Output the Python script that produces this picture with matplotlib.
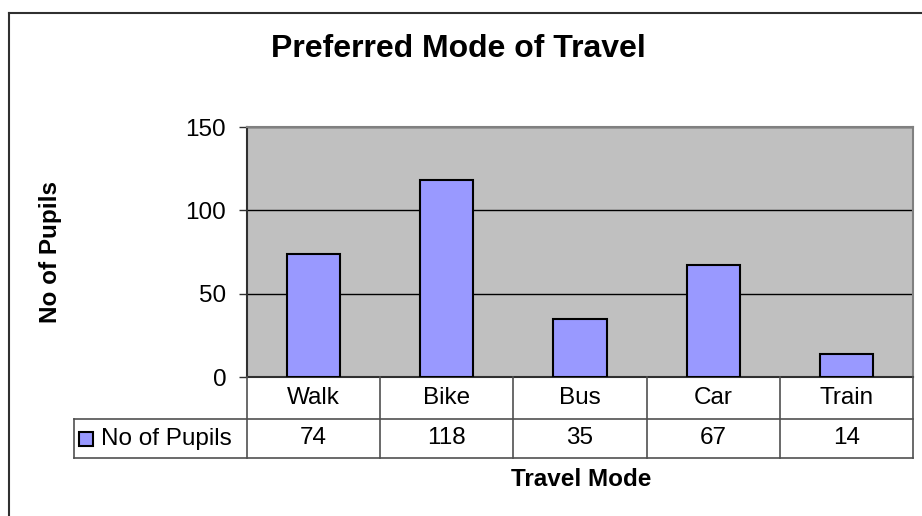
import matplotlib
matplotlib.use("Agg")
import matplotlib.pyplot as plt
from matplotlib.transforms import blended_transform_factory
from matplotlib.patches import Rectangle
from matplotlib.lines import Line2D

# data
modes = ["Walk", "Bike", "Bus", "Car", "Train"]
pupils = [74, 118, 35, 67, 14]
series_name = "No of Pupils"
yticks = [0, 50, 100, 150]

plt.rcParams['font.family'] = ['Liberation Sans', 'DejaVu Sans']

W, H = 922, 516
fig = plt.figure(figsize=(W / 100, H / 100), dpi=100)


def fx(px):
    return px / W


def fy(py):
    return 1 - py / H


# plot area in pixels
left, right, top, bottom = 247, 913, 127, 377
row1, row2 = 419, 458
leg_left = 74

ax = fig.add_axes([fx(left), fy(bottom), (right - left) / W, (bottom - top) / H])
ax.set_facecolor('#C0C0C0')
x = list(range(len(modes)))
ax.bar(x, pupils, width=0.4, color='#9999FF', edgecolor='black', linewidth=1.5, zorder=3)
ax.set_xlim(-0.5, len(modes) - 0.5)
ax.set_ylim(0, 150)
ax.set_yticks(yticks)
ax.set_xticks([])
ax.tick_params(axis='y', length=6, width=1, color='#303030', labelsize=17.5, pad=9)
ax.yaxis.grid(True, color='black', linewidth=1)
ax.set_axisbelow(True)
for name, s in ax.spines.items():
    s.set_linewidth(1.5)
    s.set_color('#303030' if name in ('left', 'bottom') else '#808080')

# data table under the axis
tcol = '#505050'
trans = blended_transform_factory(ax.transData, fig.transFigure)
for i in range(len(modes) + 1):
    fig.add_artist(Line2D([i - 0.5, i - 0.5], [fy(bottom), fy(row2)], transform=trans,
                          color=tcol, linewidth=1.2))
for yy in (row1, row2):
    fig.add_artist(Line2D([fx(leg_left), fx(right)], [fy(yy), fy(yy)],
                          color=tcol, linewidth=1.2))
fig.add_artist(Line2D([fx(leg_left), fx(leg_left)], [fy(row1), fy(row2)],
                      color=tcol, linewidth=1.2))

for i, (m, v) in enumerate(zip(modes, pupils)):
    fig.text(i, fy((bottom + row1) / 2), m, transform=trans, ha='center', va='center', fontsize=17.5)
    fig.text(i, fy((row1 + row2) / 2), str(v), transform=trans, ha='center', va='center', fontsize=17.5)

# legend key in the table
fig.add_artist(Rectangle((fx(79), fy(446)), 14 / W, 14 / H, transform=fig.transFigure,
                         facecolor='#9999FF', edgecolor='black', linewidth=1.5))
fig.text(fx(101), fy((row1 + row2) / 2), series_name, ha='left', va='center', fontsize=17.5)

# titles
fig.text(fx(458), fy(49), "Preferred Mode of Travel", ha='center', va='center',
         fontsize=23, fontweight='bold')
fig.text(fx(51), fy(252), "No of Pupils", ha='center', va='center', rotation=90,
         fontsize=17.5, fontweight='bold')
fig.text(fx(581), fy(480), "Travel Mode", ha='center', va='center',
         fontsize=17.5, fontweight='bold')

# chart border
fig.add_artist(Line2D([fx(9), 1], [fy(13), fy(13)], color='#303030', linewidth=1.5))
fig.add_artist(Line2D([fx(9), fx(9)], [fy(13), 0], color='#303030', linewidth=1.5))

fig.savefig('out.png', dpi=100)
